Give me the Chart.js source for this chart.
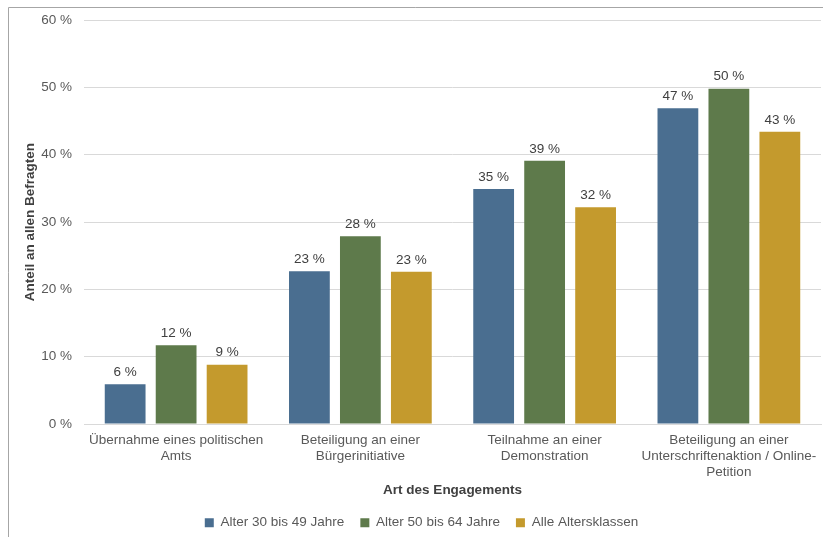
<!DOCTYPE html>
<html><head><meta charset="utf-8">
<script src="https://cdn.jsdelivr.net/npm/chart.js@4/dist/chart.umd.min.js"></script>
<style>html,body{margin:0;padding:0;background:#fff;}#wrap{width:823px;height:537px;position:relative;}</style>
</head><body><div id="wrap"><canvas id="c" width="823" height="537"></canvas></div>
<script>
const categories = [
  ["Übernahme eines politischen", "Amts"],
  ["Beteiligung an einer", "Bürgerinitiative"],
  ["Teilnahme an einer", "Demonstration"],
  ["Beteiligung an einer", "Unterschriftenaktion / Online-", "Petition"]
];
const seriesNames = ["Alter 30 bis 49 Jahre", "Alter 50 bis 64 Jahre", "Alle Altersklassen"];
const age30to49 = [5.9, 22.7, 34.9, 46.9];
const age50to64 = [11.7, 27.9, 39.1, 49.8];
const allAges = [8.8, 22.6, 32.2, 43.4];
const yTicks = [0, 10, 20, 30, 40, 50, 60];
const colors = ["#4a6e90", "#5e7a4b", "#c49a2d"];
const FONT = '"Liberation Sans", Arial, sans-serif';

const borderPlugin = {
  id: 'frame',
  beforeDraw(chart) {
    const ctx = chart.ctx;
    ctx.save();
    ctx.fillStyle = '#fff';
    ctx.fillRect(0, 0, chart.width, chart.height);
    ctx.strokeStyle = '#a6a6a6';
    ctx.lineWidth = 1;
    ctx.beginPath();
    ctx.moveTo(8.5, chart.height);
    ctx.lineTo(8.5, 7.5);
    ctx.lineTo(chart.width, 7.5);
    ctx.stroke();
    ctx.restore();
  }
};
const labelPlugin = {
  id: 'valLabels',
  afterDatasetsDraw(chart) {
    const ctx = chart.ctx;
    ctx.save();
    ctx.font = '13.5px ' + FONT;
    ctx.fillStyle = '#404040';
    ctx.textAlign = 'center';
    ctx.textBaseline = 'middle';
    chart.data.datasets.forEach((ds, i) => {
      const meta = chart.getDatasetMeta(i);
      meta.data.forEach((el, j) => {
        ctx.fillText(Math.round(ds.data[j]) + ' %', el.x, el.y - 12);
      });
    });
    ctx.restore();
  }
};

new Chart(document.getElementById('c'), {
  type: 'bar',
  data: {
    labels: categories,
    datasets: [
      { label: seriesNames[0], data: age30to49, backgroundColor: colors[0] },
      { label: seriesNames[1], data: age50to64, backgroundColor: colors[1] },
      { label: seriesNames[2], data: allAges, backgroundColor: colors[2] }
    ]
  },
  options: {
    responsive: false,
    animation: false,
    devicePixelRatio: 1,
    layout: { padding: { left: 22, right: 2, top: 14, bottom: 0 } },
    datasets: { bar: { categoryPercentage: 0.83, barPercentage: 0.80 } },
    plugins: {
      legend: {
        position: 'bottom',
        maxHeight: 37,
        labels: {
          boxWidth: 9, boxHeight: 9, padding: 16,
          color: '#595959',
          font: { family: FONT, size: 13.5 }
        }
      },
      tooltip: { enabled: false }
    },
    scales: {
      x: {
        afterFit(scale) { scale.height = 76; },
        grid: { display: false },
        border: { display: true, color: '#d9d9d9' },
        ticks: {
          color: '#595959', maxRotation: 0, autoSkip: false, padding: 0,
          font: { family: FONT, size: 13.5, lineHeight: 1.2 }
        },
        title: {
          display: true, text: 'Art des Engagements', color: '#404040',
          font: { family: FONT, size: 13.5, weight: 'bold', lineHeight: 0.9 },
          padding: { top: 0, bottom: 4 }
        }
      },
      y: {
        min: 0, max: 60,
        afterBuildTicks(scale) { scale.ticks = yTicks.map(v => ({ value: v })); },
        afterFit(scale) { scale.width = 62; },
        grid: { color: '#d9d9d9', drawTicks: false },
        border: { display: false },
        ticks: {
          color: '#595959', padding: 12,
          font: { family: FONT, size: 13.5 },
          callback: v => v + ' %'
        },
        title: {
          display: true, text: 'Anteil an allen Befragten', color: '#404040',
          font: { family: FONT, size: 13.5, weight: 'bold' },
          padding: { top: 0, bottom: 4 }
        }
      }
    }
  },
  plugins: [borderPlugin, labelPlugin]
});
</script></body></html>
